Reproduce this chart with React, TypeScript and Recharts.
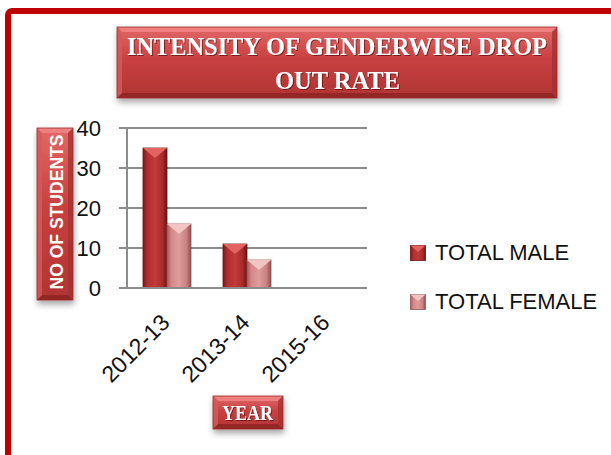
import React from "react";
import { Bar, BarChart, CartesianGrid, Legend, XAxis, YAxis } from "recharts";

const years = ["2012-13", "2013-14", "2015-16"];
const totalMale = [35, 11, 0];
const totalFemale = [16, 7, 0];
const yTicks = [0, 10, 20, 30, 40];
const seriesOrder = ["male", "female"];

const data = years.map((year, i) => ({ year, male: totalMale[i], female: totalFemale[i] }));

const FONT = "'Liberation Sans', Arial, sans-serif";
const SERIF = "'Liberation Serif', 'Times New Roman', serif";

const CAPS: Record<string, string> = { male: "#e36262", female: "#f3c4c4" };
const EDGES: Record<string, string> = { male: "#6e1414", female: "#9a5858" };

// bar with a front pyramid cap, like the office "3D" column
const Bar3D = (props: any) => {
  const { x, y, width, height, fill, kind } = props;
  if (!height || height <= 0) return null;
  const cap = Math.min(10, height);
  return (
    <g>
      <rect x={x} y={y} width={width} height={height} fill={fill} stroke={EDGES[kind]} strokeWidth={0.8} />
      <polygon points={`${x},${y} ${x + width},${y} ${x + width / 2},${y + cap}`} fill={CAPS[kind]} />
    </g>
  );
};

const XTick = (props: any) => {
  const { x, y, payload } = props;
  const ax = x + 4;
  const ay = y + 36;
  return (
    <text x={ax} y={ay} transform={`rotate(-45, ${ax}, ${ay})`} textAnchor="end" fontSize={23} fontFamily={FONT} fill="#111">
      {payload.value}
    </text>
  );
};

const LegendBox = (props: any) => {
  const items = [...(props.payload || [])].sort(
    (a: any, b: any) => seriesOrder.indexOf(a.dataKey) - seriesOrder.indexOf(b.dataKey),
  );
  return (
    <div>
      {items.map((it: any) => (
        <div key={it.value} style={{ display: "flex", alignItems: "center", height: 25, marginBottom: 24 }}>
          <svg width={16} height={16} style={{ marginRight: 9 }}>
            <rect x={0.5} y={0.5} width={15} height={15} fill={it.color} stroke={EDGES[it.dataKey]} strokeWidth={0.8} />
            <polygon points="0.5,0.5 15.5,0.5 8,7" fill={CAPS[it.dataKey]} />
          </svg>
          <span style={{ fontFamily: FONT, fontSize: 22, color: "#111", whiteSpace: "nowrap" }}>{it.value}</span>
        </div>
      ))}
    </div>
  );
};

const BevelBox = ({ x, y, w, h }: { x: number; y: number; w: number; h: number }) => {
  const b = 5;
  return (
    <g filter="url(#boxShadow)">
      <rect x={x} y={y} width={w} height={h} fill="url(#boxGrad)" />
      <polygon points={`${x},${y} ${x + w},${y} ${x + w - b},${y + b} ${x + b},${y + b}`} fill="#f08585" opacity={0.85} />
      <polygon points={`${x},${y + h} ${x + w},${y + h} ${x + w - b},${y + h - b} ${x + b},${y + h - b}`} fill="#8f2424" opacity={0.85} />
      <polygon points={`${x},${y} ${x + b},${y + b} ${x + b},${y + h - b} ${x},${y + h}`} fill="#d65a5a" opacity={0.8} />
      <polygon points={`${x + w},${y} ${x + w - b},${y + b} ${x + w - b},${y + h - b} ${x + w},${y + h}`} fill="#a83232" opacity={0.8} />
      <rect x={x} y={y} width={w} height={h} fill="none" stroke="#9a2a2a" strokeWidth={0.8} />
    </g>
  );
};

export default function App() {
  return (
    <div style={{ position: "absolute", left: 0, top: 0, width: 611, height: 455, background: "#fff", overflow: "hidden" }}>
      <BarChart
        width={611}
        height={455}
        data={data}
        margin={{ top: 128, right: 244, bottom: 137, left: 87 }}
        barCategoryGap="20%"
        barGap={0}
      >
        <defs>
          <linearGradient id="maleGrad" x1="0" y1="0" x2="1" y2="0">
            <stop offset="0%" stopColor="#7a1818" />
            <stop offset="18%" stopColor="#b02d2d" />
            <stop offset="50%" stopColor="#c23a3a" />
            <stop offset="82%" stopColor="#a82a2a" />
            <stop offset="100%" stopColor="#6a1212" />
          </linearGradient>
          <linearGradient id="femaleGrad" x1="0" y1="0" x2="1" y2="0">
            <stop offset="0%" stopColor="#a65a5a" />
            <stop offset="18%" stopColor="#d58888" />
            <stop offset="50%" stopColor="#df9c9c" />
            <stop offset="82%" stopColor="#c88080" />
            <stop offset="100%" stopColor="#8e4a4a" />
          </linearGradient>
        </defs>
        <CartesianGrid vertical={false} stroke="#8c8c8c" strokeWidth={2} />
        <XAxis
          dataKey="year"
          axisLine={{ stroke: "#8c8c8c", strokeWidth: 2 }}
          tickLine={false}
          tickSize={0}
          tickMargin={0}
          tick={<XTick />}
          interval={0}
        />
        <YAxis
          width={40}
          domain={[0, 40]}
          ticks={yTicks}
          axisLine={{ stroke: "#8c8c8c", strokeWidth: 2 }}
          tickLine={{ stroke: "#8c8c8c", strokeWidth: 2 }}
          tickSize={8}
          tickMargin={18}
          tick={{ fontSize: 22, fontFamily: FONT, fill: "#111" }}
        />
        <Legend
          layout="vertical"
          align="center"
          verticalAlign="middle"
          content={<LegendBox />}
          wrapperStyle={{ left: 410, top: 240, width: 200, height: 110 }}
        />
        <Bar dataKey="male" name="TOTAL MALE" fill="url(#maleGrad)" isAnimationActive={false} shape={(p: any) => <Bar3D {...p} kind="male" />} />
        <Bar dataKey="female" name="TOTAL FEMALE" fill="url(#femaleGrad)" isAnimationActive={false} shape={(p: any) => <Bar3D {...p} kind="female" />} />
      </BarChart>

      <svg width={611} height={455} style={{ position: "absolute", left: 0, top: 0, pointerEvents: "none" }}>
        <defs>
          <linearGradient id="boxGrad" x1="0" y1="0" x2="0" y2="1">
            <stop offset="0%" stopColor="#e26868" />
            <stop offset="45%" stopColor="#c84040" />
            <stop offset="100%" stopColor="#b03434" />
          </linearGradient>
          <filter id="boxShadow" x="-10%" y="-10%" width="125%" height="140%">
            <feDropShadow dx={1} dy={4} stdDeviation={3} floodColor="#000" floodOpacity={0.35} />
          </filter>
          <filter id="txtShadow">
            <feDropShadow dx={1} dy={1} stdDeviation={0.6} floodColor="#400" floodOpacity={0.6} />
          </filter>
        </defs>
        <rect x={8} y={11} width={700} height={500} rx={4} fill="none" stroke="#c00000" strokeWidth={6} />

        <BevelBox x={117} y={27} w={440} h={71} />
        <g filter="url(#txtShadow)" fill="#fff" fontFamily={SERIF} fontWeight="bold" fontSize={26}>
          <text x={127} y={55} textLength={420} lengthAdjust="spacingAndGlyphs">INTENSITY OF GENDERWISE DROP</text>
          <text x={275} y={89} textLength={125} lengthAdjust="spacingAndGlyphs">OUT RATE</text>
        </g>

        <BevelBox x={37} y={128} w={36} h={172} />
        <text
          x={63}
          y={212}
          transform="rotate(-90, 63, 212)"
          textAnchor="middle"
          fill="#fff"
          fontFamily={FONT}
          fontWeight="bold"
          fontSize={18}
          textLength={155}
          lengthAdjust="spacingAndGlyphs"
        >
          NO OF STUDENTS
        </text>

        <BevelBox x={213} y={396} w={70} h={33} />
        <text x={222} y={420} fill="#fff" fontFamily={SERIF} fontWeight="bold" fontSize={22} textLength={51} lengthAdjust="spacingAndGlyphs" filter="url(#txtShadow)">
          YEAR
        </text>
      </svg>
    </div>
  );
}
